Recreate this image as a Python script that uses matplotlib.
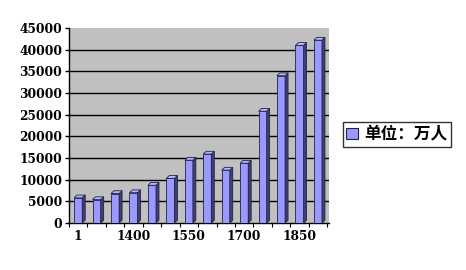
import matplotlib.pyplot as plt
import numpy as np
from matplotlib.patches import Polygon, Patch

# data (万人)
years = ['1', '1000', '1200', '1400', '1450', '1500', '1550',
         '1600', '1650', '1700', '1750', '1800', '1850', '1900']
population = [5800, 5400, 6800, 7000, 8700, 10300, 14500,
              15900, 12200, 13800, 25800, 34000, 41000, 42200]
y_ticks = [0, 5000, 10000, 15000, 20000, 25000, 30000, 35000, 40000, 45000]

front = '#9999FF'
side = '#404070'
top = '#B3B3FF'

fig = plt.figure(figsize=(4.66, 2.70), dpi=100)
ax = fig.add_axes([0.148, 0.174, 0.558, 0.722])
ax.set_facecolor('#C0C0C0')

x = np.arange(len(years))
w = 0.44
dx, dy = 0.16, 650

# gridlines
for t in y_ticks[1:-1]:
    ax.axhline(t, color='black', lw=1, zorder=1)

ax.bar(x, population, width=w, color=front, edgecolor='#222244', lw=0.6, zorder=3)
for xi, v in zip(x, population):
    r = xi + w / 2
    l = xi - w / 2
    ax.add_patch(Polygon([(r, 0), (r + dx, dy), (r + dx, v + dy), (r, v)],
                         closed=True, fc=side, ec='#222244', lw=0.6, zorder=3))
    ax.add_patch(Polygon([(l, v), (l + dx, v + dy), (r + dx, v + dy), (r, v)],
                         closed=True, fc=top, ec='#222244', lw=0.6, zorder=3))

ax.set_xlim(-0.42, 13.6)
ax.set_ylim(0, 45000)
ax.set_yticks(y_ticks)
ax.set_xticks(x[::3])
ax.set_xticklabels(years[::3])
ax.set_xticks(np.arange(-0.5, len(years), 1), minor=True)
ax.tick_params(axis='x', which='major', length=0, pad=5)
ax.tick_params(axis='x', which='minor', length=3, width=0.8)
ax.tick_params(axis='y', length=3, width=1, pad=2)

for lab in ax.get_xticklabels() + ax.get_yticklabels():
    lab.set_family('DejaVu Serif')
    lab.set_fontweight('heavy')
    lab.set_fontsize(8.8)

for s in ['top', 'right']:
    ax.spines[s].set_visible(False)
ax.spines['left'].set_linewidth(1)
ax.spines['bottom'].set_linewidth(1)

leg = fig.legend(handles=[Patch(fc=front, ec='#222244', lw=0.8, label='单位：万人')],
                 loc='center left', bbox_to_anchor=(0.736, 0.502),
                 prop={'family': ['Noto Sans CJK SC', 'DejaVu Sans'], 'weight': 'bold', 'size': 12},
                 frameon=True, fancybox=False, edgecolor='black',
                 handlelength=0.7, handleheight=0.7, handletextpad=0.4,
                 borderpad=0.2, borderaxespad=0)
leg.get_frame().set_linewidth(1)

fig.savefig('out.png', dpi=100)
